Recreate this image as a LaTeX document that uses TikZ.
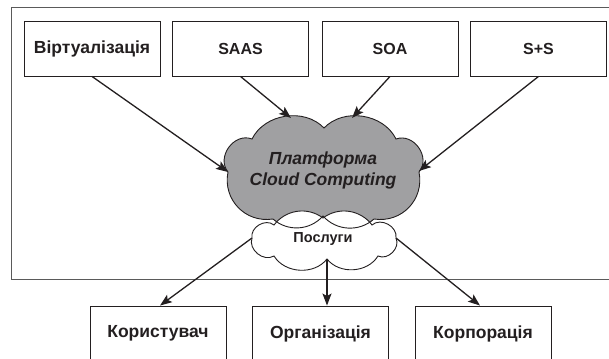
\documentclass[tikz,border=0pt]{standalone}
\usepackage{fontspec}
\setmainfont{Liberation Sans}
\usetikzlibrary{arrows.meta}
\definecolor{inkdark}{RGB}{35,31,32}
\definecolor{cloudfill}{RGB}{160,160,162}
\definecolor{framegray}{RGB}{90,90,90}
\tikzset{
  block/.style={draw=inkdark,line width=0.9pt,fill=white,minimum width=136pt,minimum height=55pt,
    inner sep=0pt,text=inkdark,font=\fontsize{17.5}{20}\selectfont\bfseries},
  latinblock/.style={block,font=\fontsize{16}{18}\selectfont\bfseries},
  link/.style={draw=inkdark,line width=1.3pt,-{Stealth[length=12pt,width=9pt,inset=2.5pt]}},
  outline/.style={draw=inkdark,line width=0.9pt},
}
% outline of the platform cloud (screen coordinates, y pointing down)
\newcommand\platformcloud{
  (324,128) to[bend left=55] (396,139)
  to[bend left=75,looseness=1.2] (419,172)
  to[bend left=55,looseness=1.1] (374,219)
  to[bend left=45] (323,216)
  to[bend left=45] (273,219)
  to[bend left=55,looseness=1.1] (228,172)
  to[bend left=75,looseness=1.2] (252,139)
  to[bend left=55] cycle}
% outline of the services cloud
\newcommand\servicecloud{
  (323,218) to[bend left=45] (372,225)
  to[bend left=70,looseness=1.1] (396,238)
  to[bend left=70,looseness=1.1] (378,256)
  to[bend left=55] (327,259)
  to[bend left=55] (274,256)
  to[bend left=70,looseness=1.1] (252,238)
  to[bend left=70,looseness=1.1] (274,225)
  to[bend left=45] cycle}
\begin{document}
\begin{tikzpicture}[x=1pt,y=-1pt]
\useasboundingbox (0,0) rectangle (609,358);
\clip (0,0) rectangle (609,358);
% outer frame, open to the right
\draw[framegray,line width=0.9pt] (11,7) rectangle (640,279);
% source boxes
\node[block] (virt) at (92,48.5) {Віртуалізація};
\node[latinblock] (saas) at (240.5,48.5) {SAAS};
\node[latinblock] (soa) at (390,48.5) {SOA};
\node[latinblock] (ss) at (538.5,48.5) {S+S};
% platform cloud, services cloud over it, then the platform outline again
\fill[cloudfill] \platformcloud;
\filldraw[fill=white,outline] \servicecloud;
\draw[outline] \platformcloud;
\node[text=inkdark,font=\fontsize{17.5}{21}\selectfont\bfseries\itshape,align=center] (gct) at (323,170)
  {Платформа\\Cloud Computing};
\node[text=inkdark,font=\fontsize{14.5}{17}\selectfont\bfseries] (sct) at (323,239) {Послуги};
% anchor points on the cloud outlines
\coordinate (gcW) at (228,172);
\coordinate (gcNW) at (291,118);
\coordinate (gcNE) at (352,118);
\coordinate (gcE) at (419,171);
\coordinate (scW) at (252,238);
\coordinate (scS) at (327,259);
\coordinate (scE) at (396,238);
% consumer boxes
\node[block] (user) at (158,333.5) {Користувач};
\node[block] (org) at (320.5,333.5) {Організація};
\node[block] (corp) at (483,333.5) {Корпорація};
% connectors
\draw[link] (virt.south) -- (gcW);
\draw[link] (saas.south) -- (gcNW);
\draw[link] (soa.south) -- (gcNE);
\draw[link] (ss.south) -- (gcE);
\draw[link] (scW) -- ([xshift=2pt]user.north);
\draw[link] (scS) -- ([xshift=6.5pt]org.north);
\draw[link] (scE) -- ([xshift=-3pt]corp.north);
\end{tikzpicture}
\end{document}
